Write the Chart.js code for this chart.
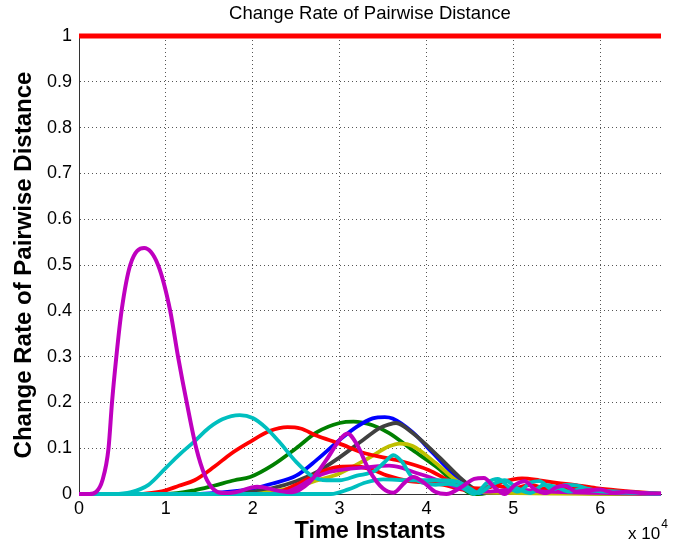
<!DOCTYPE html>
<html><head><meta charset="utf-8">
<script src="https://cdn.jsdelivr.net/npm/chart.js@4/dist/chart.umd.min.js"></script>
<style>html,body{margin:0;padding:0;background:#fff}</style>
</head><body>
<canvas id="c" width="687" height="548"></canvas>
<script>
// x values are in units of 10^4 time instants
const xTickValues = [0, 1, 2, 3, 4, 5, 6];
const yTickValues = [0, 0.1, 0.2, 0.3, 0.4, 0.5, 0.6, 0.7, 0.8, 0.9, 1];

const flatX = [0, 6.7];
const flatY = [1, 1];

const magentaX = [0, 0.12, 0.2, 0.27, 0.34, 0.38, 0.43, 0.49, 0.59, 0.75, 0.91, 1.05, 1.14, 1.24, 1.35, 1.45, 1.55, 1.65, 1.8, 2.05, 2.3, 2.45, 2.65, 2.85, 3.0, 3.09, 3.2, 3.34, 3.5, 3.62, 3.75, 3.85, 3.97, 4.1, 4.23, 4.4, 4.55, 4.66, 4.78, 4.9, 5.02, 5.13, 5.25, 5.38, 5.5, 5.6, 5.72, 5.85, 6.0, 6.15, 6.3, 6.5, 6.7];
const magentaY = [0, 0, 0.005, 0.03, 0.1, 0.2, 0.3, 0.4, 0.5, 0.537, 0.5, 0.4, 0.3, 0.2, 0.1, 0.04, 0.01, 0.002, 0.004, 0.016, 0.007, 0.004, 0.025, 0.075, 0.118, 0.132, 0.108, 0.052, 0.012, 0.003, 0.025, 0.037, 0.025, 0.005, 0.0, 0.015, 0.033, 0.035, 0.015, 0.0, 0.02, 0.028, 0.01, 0.002, 0.015, 0.018, 0.005, 0.008, 0.01, 0.003, 0.005, 0.002, 0.001];

const cyanX = [0, 0.4, 0.6, 0.8, 1.0, 1.15, 1.33, 1.5, 1.65, 1.85, 2.0, 2.15, 2.3, 2.5, 2.69, 2.85, 3.0, 3.2, 3.4, 3.52, 3.62, 3.72, 3.82, 3.95, 4.1, 4.25, 4.4, 4.55, 4.7, 4.82, 4.95, 5.05, 5.2, 5.3, 5.45, 5.6, 5.75, 5.9, 6.1, 6.4, 6.7];
const cyanY = [0, 0, 0.004, 0.02, 0.057, 0.085, 0.115, 0.145, 0.163, 0.172, 0.166, 0.145, 0.115, 0.07, 0.038, 0.03, 0.03, 0.04, 0.05, 0.07, 0.085, 0.07, 0.04, 0.025, 0.02, 0.022, 0.015, 0.0, 0.025, 0.033, 0.015, 0.005, 0.025, 0.028, 0.01, 0.02, 0.018, 0.008, 0.006, 0.003, 0.001];

const cyan2X = [0, 2.9, 3.1, 3.3, 3.5, 3.8, 4.1, 4.35, 4.5, 4.6, 4.75, 4.9, 5.05, 5.2, 5.35, 5.5, 5.65, 5.8, 6.0, 6.3, 6.7];
const cyan2Y = [0, 0, 0.01, 0.025, 0.032, 0.03, 0.03, 0.027, 0.012, 0.002, 0.02, 0.03, 0.012, 0.002, 0.02, 0.015, 0.005, 0.012, 0.006, 0.003, 0];

const redX = [0, 0.7, 0.9, 1.0, 1.15, 1.33, 1.56, 1.75, 1.97, 2.2, 2.4, 2.55, 2.74, 3.0, 3.27, 3.5, 3.7, 4.03, 4.25, 4.46, 4.6, 4.8, 5.0, 5.1, 5.3, 5.5, 5.7, 5.95, 6.2, 6.45, 6.7];
const redY = [0, 0, 0.004, 0.008, 0.018, 0.03, 0.06, 0.088, 0.114, 0.138, 0.146, 0.143, 0.127, 0.11, 0.09, 0.08, 0.072, 0.052, 0.03, 0.015, 0.012, 0.022, 0.032, 0.034, 0.03, 0.024, 0.02, 0.013, 0.008, 0.004, 0.001];

const red2X = [0, 2.2, 2.5, 2.75, 2.95, 3.15, 3.35, 3.55, 3.8, 4.0, 4.2, 4.4, 4.6, 4.8, 5.0, 5.2, 5.4, 5.7, 6.0, 6.4, 6.7];
const red2Y = [0, 0, 0.02, 0.045, 0.058, 0.06, 0.055, 0.04, 0.028, 0.025, 0.02, 0.01, 0.008, 0.018, 0.012, 0.02, 0.01, 0.012, 0.006, 0.002, 0];

const greenX = [0, 1.0, 1.33, 1.55, 1.79, 1.97, 2.23, 2.5, 2.74, 3.0, 3.16, 3.38, 3.57, 3.84, 4.11, 4.34, 4.49, 4.6, 4.8, 5.2, 6.7];
const greenY = [0, 0, 0.008, 0.018, 0.03, 0.037, 0.063, 0.1, 0.135, 0.155, 0.158, 0.15, 0.133, 0.096, 0.06, 0.023, 0.003, 0, 0.005, 0.003, 0];

const blueX = [0, 1.3, 1.74, 2.0, 2.23, 2.5, 2.74, 3.0, 3.2, 3.38, 3.52, 3.61, 3.84, 4.07, 4.3, 4.49, 4.6, 4.8, 5.2, 5.6, 6.7];
const blueY = [0, 0, 0.005, 0.012, 0.023, 0.04, 0.075, 0.118, 0.147, 0.165, 0.168, 0.165, 0.135, 0.09, 0.045, 0.013, 0.002, 0.004, 0.006, 0.003, 0];

const blackX = [0, 1.6, 2.0, 2.23, 2.5, 2.74, 3.0, 3.27, 3.46, 3.57, 3.65, 3.84, 4.15, 4.38, 4.57, 4.7, 5.0, 6.7];
const blackY = [0, 0, 0.005, 0.013, 0.028, 0.048, 0.08, 0.118, 0.144, 0.152, 0.155, 0.133, 0.08, 0.037, 0.009, 0.002, 0.003, 0];

const yellowX = [0, 2.0, 2.3, 2.5, 2.75, 3.0, 3.33, 3.57, 3.69, 3.84, 4.11, 4.34, 4.53, 4.7, 6.7];
const yellowY = [0, 0, 0.008, 0.016, 0.03, 0.045, 0.078, 0.104, 0.11, 0.105, 0.067, 0.03, 0.01, 0.003, 0];

const magenta2X = [0, 2.3, 2.5, 2.7, 2.88, 3.1, 3.3, 3.57, 3.7, 3.85, 4.03, 4.2, 4.34, 4.5, 4.7, 5.0, 5.4, 6.7];
const magenta2Y = [0, 0, 0.013, 0.035, 0.048, 0.055, 0.058, 0.062, 0.058, 0.048, 0.037, 0.025, 0.016, 0.008, 0.005, 0.01, 0.005, 0];

function pts(xs, ys) { return xs.map((x, i) => ({ x: x, y: ys[i] })); }

const C = {
  r: '#ff0000', g: '#008000', b: '#0000ff', c: '#00bfbf', m: '#bf00bf', y: '#bfbf00', k: '#404040'
};

function ds(label, xs, ys, color, w) {
  return {
    label: label, data: pts(xs, ys), borderColor: color, backgroundColor: color,
    borderWidth: w || 3.8, pointRadius: 0, fill: false,
    cubicInterpolationMode: 'monotone', clip: 6
  };
}

const datasets = [
  ds('magenta', magentaX, magentaY, C.m, 4),
  ds('cyan', cyanX, cyanY, C.c),
  ds('cyan 2', cyan2X, cyan2Y, C.c),
  ds('red', redX, redY, C.r),
  ds('magenta 2', magenta2X, magenta2Y, C.m),
  ds('red 2', red2X, red2Y, C.r),
  ds('yellow', yellowX, yellowY, C.y),
  ds('black', blackX, blackY, C.k),
  ds('blue', blueX, blueY, C.b),
  ds('green', greenX, greenY, C.g),
  ds('flat', flatX, flatY, C.r, 5)
];

const FAM = '"Liberation Sans", Arial, sans-serif';

const exponentPlugin = {
  id: 'exponent',
  beforeDraw(chart) {
    // centre the title over the plotting area, as in the reference
    if (chart.titleBlock) {
      chart.titleBlock.left = chart.chartArea.left;
      chart.titleBlock.right = chart.chartArea.right;
      chart.titleBlock.width = chart.chartArea.right - chart.chartArea.left;
    }
  },
  afterDraw(chart) {
    const ctx = chart.ctx;
    ctx.save();
    ctx.fillStyle = '#000';
    ctx.textBaseline = 'alphabetic';
    ctx.textAlign = 'left';
    ctx.font = '17px ' + FAM;
    const t = 'x 10';
    ctx.fillText(t, 628, 539);
    const w = ctx.measureText(t).width;
    ctx.font = '12px ' + FAM;
    ctx.fillText('4', 628 + w + 1, 528);
    ctx.restore();
  }
};

const tickFont = { family: FAM, size: 18 };
const gridStyle = { color: '#555', lineWidth: 1, drawTicks: false };

new Chart(document.getElementById('c'), {
  type: 'line',
  data: { datasets: datasets },
  plugins: [exponentPlugin],
  options: {
    responsive: false,
    animation: false,
    devicePixelRatio: 1,
    layout: { padding: { left: 0, right: 26, top: 0, bottom: 0 } },
    plugins: {
      legend: { display: false },
      tooltip: { enabled: false },
      title: {
        display: true,
        text: 'Change Rate of Pairwise Distance',
        color: '#000',
        font: { family: FAM, size: 18.5, weight: 'normal', lineHeight: 1.2 },
        padding: { top: 3, bottom: 10.8 }
      }
    },
    scales: {
      x: {
        type: 'linear', min: 0, max: 6.7,
        afterBuildTicks(scale) { scale.ticks = xTickValues.map(v => ({ value: v })); },
        afterFit(scale) { scale.height = 54; },
        grid: gridStyle,
        border: { display: true, color: '#333', width: 1, dash: [1, 3] },
        ticks: { font: tickFont, color: '#000', padding: 4, maxRotation: 0, callback: v => String(v) },
        title: {
          display: true, text: 'Time Instants', color: '#000',
          font: { family: FAM, size: 23.5, weight: 'bold', lineHeight: 1.2 },
          padding: { top: 0, bottom: 2 }
        }
      },
      y: {
        type: 'linear', min: 0, max: 1,
        afterBuildTicks(scale) { scale.ticks = yTickValues.map(v => ({ value: v })); },
        afterFit(scale) { scale.width = 79; },
        grid: gridStyle,
        border: { display: true, color: '#333', width: 1, dash: [1, 3] },
        ticks: { font: tickFont, color: '#000', padding: 7, callback: v => String(v) },
        title: {
          display: true, text: 'Change Rate of Pairwise Distance', color: '#000',
          font: { family: FAM, size: 24, weight: 'bold', lineHeight: 1.2 },
          padding: { top: 10, bottom: 0 }
        }
      }
    }
  }
});
</script>
</body></html>
